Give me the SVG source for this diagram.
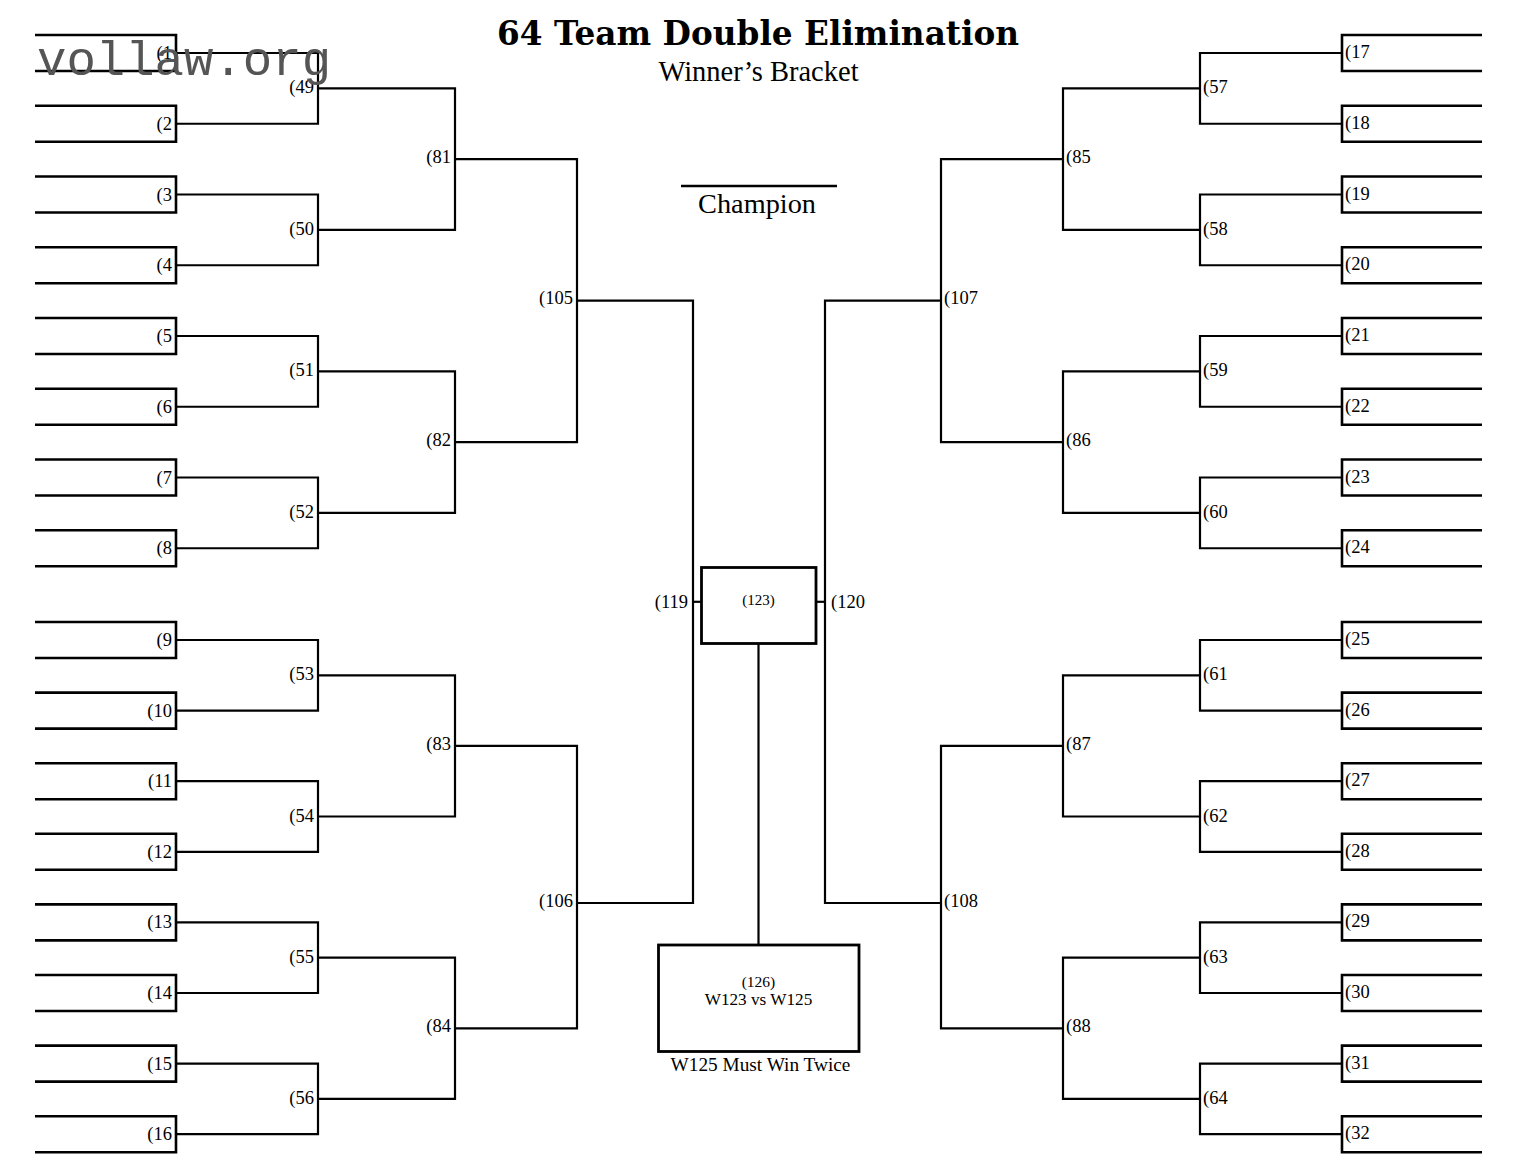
<svg xmlns="http://www.w3.org/2000/svg" width="1518" height="1173" viewBox="0 0 1518 1173">
<style>
.slot{fill:none;stroke:#000;stroke-width:2.6}
.con{fill:none;stroke:#000;stroke-width:2.2}
.box{fill:none;stroke:#000;stroke-width:2.8}
text{font-family:"Liberation Serif","Times New Roman",serif;fill:#000}
.lb{font-size:18.5px}
.e{text-anchor:end}
.m{text-anchor:middle}
</style>
<rect width="1518" height="1173" fill="#fff"/>
<g id="title">
<text x="758" y="45" class="m" style="font-family:'DejaVu Serif',serif;font-weight:bold;font-size:34px" textLength="522" lengthAdjust="spacingAndGlyphs">64 Team Double Elimination</text>
<text x="758.5" y="81" class="m" style="font-size:28.5px">Winner’s Bracket</text>
</g>
<g id="champion">
<line x1="681" y1="186" x2="837" y2="186" stroke="#000" stroke-width="2.4"/>
<text x="757" y="213" class="m" style="font-size:28.3px">Champion</text>
</g>
<g id="connectors">
<path class="con" d="M176 53H318V123.75H176"/>
<path class="con" d="M176 194.5H318V265.25H176"/>
<path class="con" d="M176 336H318V406.75H176"/>
<path class="con" d="M176 477.5H318V548.25H176"/>
<path class="con" d="M176 640H318V710.6H176"/>
<path class="con" d="M176 781.2H318V851.8H176"/>
<path class="con" d="M176 922.4H318V993H176"/>
<path class="con" d="M176 1063.6H318V1134.2H176"/>
<path class="con" d="M318 88.4H455V229.9H318"/>
<path class="con" d="M318 371.4H455V512.9H318"/>
<path class="con" d="M318 675.3H455V816.5H318"/>
<path class="con" d="M318 957.7H455V1098.9H318"/>
<path class="con" d="M455 159.1H577V442.1H455"/>
<path class="con" d="M455 745.9H577V1028.3H455"/>
<path class="con" d="M577 300.6H693V903H577"/>
<path class="con" d="M693 601.8H701"/>
<path class="con" d="M1342 53H1200V123.75H1342"/>
<path class="con" d="M1342 194.5H1200V265.25H1342"/>
<path class="con" d="M1342 336H1200V406.75H1342"/>
<path class="con" d="M1342 477.5H1200V548.25H1342"/>
<path class="con" d="M1342 640H1200V710.6H1342"/>
<path class="con" d="M1342 781.2H1200V851.8H1342"/>
<path class="con" d="M1342 922.4H1200V993H1342"/>
<path class="con" d="M1342 1063.6H1200V1134.2H1342"/>
<path class="con" d="M1200 88.4H1063V229.9H1200"/>
<path class="con" d="M1200 371.4H1063V512.9H1200"/>
<path class="con" d="M1200 675.3H1063V816.5H1200"/>
<path class="con" d="M1200 957.7H1063V1098.9H1200"/>
<path class="con" d="M1063 159.1H941V442.1H1063"/>
<path class="con" d="M1063 745.9H941V1028.3H1063"/>
<path class="con" d="M941 300.6H825V903H941"/>
<path class="con" d="M825 601.8H817"/>
<path class="con" d="M758.5 643V945"/>
</g>
<g id="slots-left">
<g id="s1"><path class="slot" d="M35 35H176V71H35"/><text class="lb e" x="172" y="59">(1</text></g>
<g id="s2"><path class="slot" d="M35 105.75H176V141.75H35"/><text class="lb e" x="172" y="129.75">(2</text></g>
<g id="s3"><path class="slot" d="M35 176.5H176V212.5H35"/><text class="lb e" x="172" y="200.5">(3</text></g>
<g id="s4"><path class="slot" d="M35 247.25H176V283.25H35"/><text class="lb e" x="172" y="271.25">(4</text></g>
<g id="s5"><path class="slot" d="M35 318H176V354H35"/><text class="lb e" x="172" y="342">(5</text></g>
<g id="s6"><path class="slot" d="M35 388.75H176V424.75H35"/><text class="lb e" x="172" y="412.75">(6</text></g>
<g id="s7"><path class="slot" d="M35 459.5H176V495.5H35"/><text class="lb e" x="172" y="483.5">(7</text></g>
<g id="s8"><path class="slot" d="M35 530.25H176V566.25H35"/><text class="lb e" x="172" y="554.25">(8</text></g>
<g id="s9"><path class="slot" d="M35 622H176V658H35"/><text class="lb e" x="172" y="646">(9</text></g>
<g id="s10"><path class="slot" d="M35 692.6H176V728.6H35"/><text class="lb e" x="172" y="716.6">(10</text></g>
<g id="s11"><path class="slot" d="M35 763.2H176V799.2H35"/><text class="lb e" x="172" y="787.2">(11</text></g>
<g id="s12"><path class="slot" d="M35 833.8H176V869.8H35"/><text class="lb e" x="172" y="857.8">(12</text></g>
<g id="s13"><path class="slot" d="M35 904.4H176V940.4H35"/><text class="lb e" x="172" y="928.4">(13</text></g>
<g id="s14"><path class="slot" d="M35 975H176V1011H35"/><text class="lb e" x="172" y="999">(14</text></g>
<g id="s15"><path class="slot" d="M35 1045.6H176V1081.6H35"/><text class="lb e" x="172" y="1069.6">(15</text></g>
<g id="s16"><path class="slot" d="M35 1116.2H176V1152.2H35"/><text class="lb e" x="172" y="1140.2">(16</text></g>
</g>
<g id="slots-right">
<g id="s17"><path class="slot" d="M1482 35H1342V71H1482"/><text class="lb" x="1345" y="58">(17</text></g>
<g id="s18"><path class="slot" d="M1482 105.75H1342V141.75H1482"/><text class="lb" x="1345" y="128.75">(18</text></g>
<g id="s19"><path class="slot" d="M1482 176.5H1342V212.5H1482"/><text class="lb" x="1345" y="199.5">(19</text></g>
<g id="s20"><path class="slot" d="M1482 247.25H1342V283.25H1482"/><text class="lb" x="1345" y="270.25">(20</text></g>
<g id="s21"><path class="slot" d="M1482 318H1342V354H1482"/><text class="lb" x="1345" y="341">(21</text></g>
<g id="s22"><path class="slot" d="M1482 388.75H1342V424.75H1482"/><text class="lb" x="1345" y="411.75">(22</text></g>
<g id="s23"><path class="slot" d="M1482 459.5H1342V495.5H1482"/><text class="lb" x="1345" y="482.5">(23</text></g>
<g id="s24"><path class="slot" d="M1482 530.25H1342V566.25H1482"/><text class="lb" x="1345" y="553.25">(24</text></g>
<g id="s25"><path class="slot" d="M1482 622H1342V658H1482"/><text class="lb" x="1345" y="645">(25</text></g>
<g id="s26"><path class="slot" d="M1482 692.6H1342V728.6H1482"/><text class="lb" x="1345" y="715.6">(26</text></g>
<g id="s27"><path class="slot" d="M1482 763.2H1342V799.2H1482"/><text class="lb" x="1345" y="786.2">(27</text></g>
<g id="s28"><path class="slot" d="M1482 833.8H1342V869.8H1482"/><text class="lb" x="1345" y="856.8">(28</text></g>
<g id="s29"><path class="slot" d="M1482 904.4H1342V940.4H1482"/><text class="lb" x="1345" y="927.4">(29</text></g>
<g id="s30"><path class="slot" d="M1482 975H1342V1011H1482"/><text class="lb" x="1345" y="998">(30</text></g>
<g id="s31"><path class="slot" d="M1482 1045.6H1342V1081.6H1482"/><text class="lb" x="1345" y="1068.6">(31</text></g>
<g id="s32"><path class="slot" d="M1482 1116.2H1342V1152.2H1482"/><text class="lb" x="1345" y="1139.2">(32</text></g>
</g>
<g id="matches-left">
<text id="m49" class="lb e" x="314" y="93.4">(49</text>
<text id="m50" class="lb e" x="314" y="234.9">(50</text>
<text id="m51" class="lb e" x="314" y="376.4">(51</text>
<text id="m52" class="lb e" x="314" y="517.9">(52</text>
<text id="m53" class="lb e" x="314" y="680.3">(53</text>
<text id="m54" class="lb e" x="314" y="821.5">(54</text>
<text id="m55" class="lb e" x="314" y="962.7">(55</text>
<text id="m56" class="lb e" x="314" y="1103.9">(56</text>
<text id="m81" class="lb e" x="451" y="163.1">(81</text>
<text id="m82" class="lb e" x="451" y="446.1">(82</text>
<text id="m83" class="lb e" x="451" y="749.9">(83</text>
<text id="m84" class="lb e" x="451" y="1032.3">(84</text>
<text id="m105" class="lb e" x="573" y="304">(105</text>
<text id="m106" class="lb e" x="573" y="907">(106</text>
<text id="m119" class="lb e" x="688" y="608">(119</text>
</g>
<g id="matches-right">
<text id="m57" class="lb" x="1203" y="93.4">(57</text>
<text id="m58" class="lb" x="1203" y="234.9">(58</text>
<text id="m59" class="lb" x="1203" y="376.4">(59</text>
<text id="m60" class="lb" x="1203" y="517.9">(60</text>
<text id="m61" class="lb" x="1203" y="680.3">(61</text>
<text id="m62" class="lb" x="1203" y="821.5">(62</text>
<text id="m63" class="lb" x="1203" y="962.7">(63</text>
<text id="m64" class="lb" x="1203" y="1103.9">(64</text>
<text id="m85" class="lb" x="1066" y="163.1">(85</text>
<text id="m86" class="lb" x="1066" y="446.1">(86</text>
<text id="m87" class="lb" x="1066" y="749.9">(87</text>
<text id="m88" class="lb" x="1066" y="1032.3">(88</text>
<text id="m107" class="lb" x="944" y="304">(107</text>
<text id="m108" class="lb" x="944" y="907">(108</text>
<text id="m120" class="lb" x="831" y="608">(120</text>
</g>
<g id="m123">
<rect class="box" x="701.5" y="567.5" width="114.5" height="76"/>
<text x="758.5" y="605" class="m" style="font-size:15px">(123)</text>
</g>
<g id="m126">
<rect class="box" x="658.5" y="945" width="200.5" height="106.5"/>
<text x="758.5" y="987" class="m" style="font-size:15.5px">(126)</text>
<text x="758.5" y="1005" class="m" style="font-size:17.2px">W123 vs W125</text>
<text x="760.5" y="1071" class="m" style="font-size:19.3px">W125 Must Win Twice</text>
</g>
<g id="watermark">
<text x="37" y="75" style="font-family:'Liberation Mono','Courier New',monospace;font-size:49px;fill:#555">vollaw.org</text>
</g>
</svg>
